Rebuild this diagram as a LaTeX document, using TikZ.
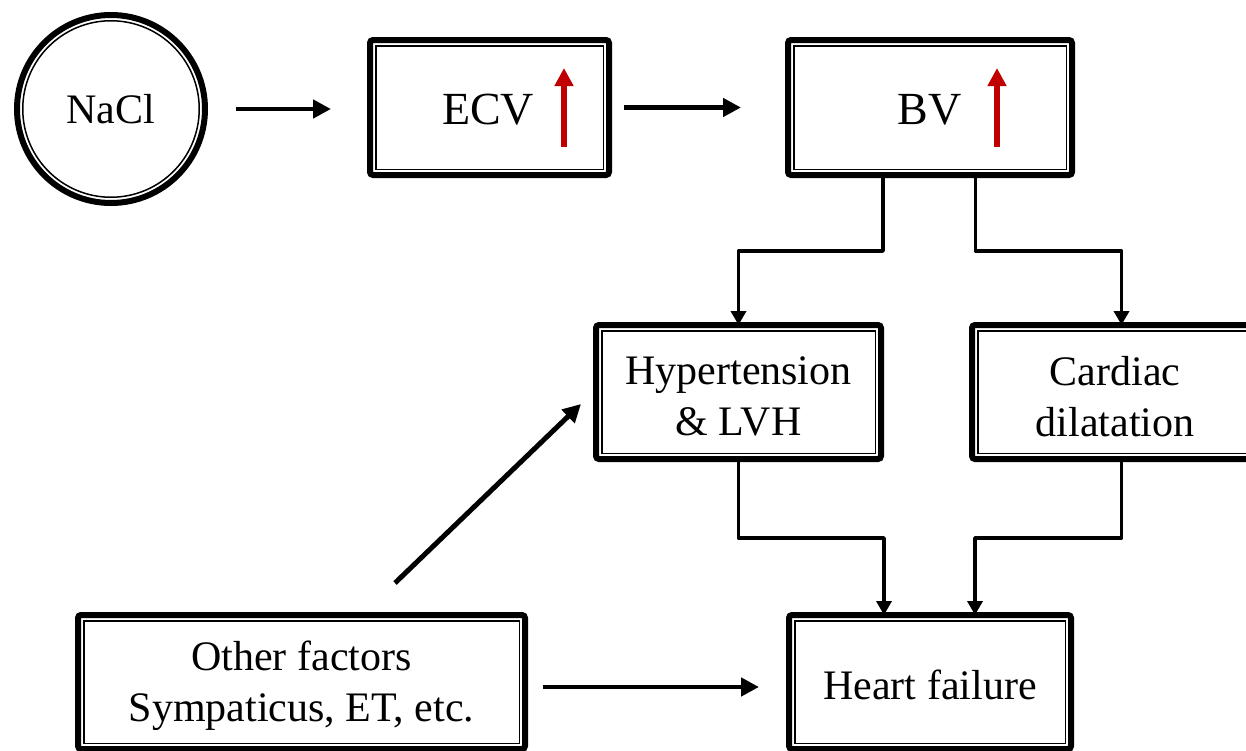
\documentclass[tikz,border=0pt]{standalone}
\usepackage{fontspec}
\setmainfont{Liberation Serif}
\usetikzlibrary{arrows.meta,calc}
\definecolor{upred}{HTML}{C00000}
\tikzset{
  dbox/.style={draw, line width=6pt, rounded corners=3pt, outer sep=0pt, inner sep=0pt},
  btext/.style={align=center, inner sep=0pt, font=\fontsize{42}{51}\selectfont},
  inframe/.style={line width=1.5pt},
  harrow/.style={line width=4.5pt, -{Triangle[length=18pt,width=18pt]}},
  earrow/.style={line width=3.5pt, line join=round, -{Triangle[length=14pt,width=15pt]}},
  uparrow/.style={draw=upred, line width=6.5pt, -{Triangle[length=18pt,width=18pt,fill=upred]}},
  bigtext/.style={font=\fontsize{46}{54}\selectfont, inner sep=0pt}
}
\begin{document}
\begin{tikzpicture}[x=1pt,y=-1pt]
\useasboundingbox (0,0) rectangle (1246,750);
\clip (0,0) rectangle (1246,750);
% NaCl
\node[circle, draw, line width=6pt, minimum size=188pt, inner sep=0pt, outer sep=0pt, font=\fontsize{42}{49}\selectfont] (nacl) at (111,109) {NaCl};
\draw[inframe] (nacl.center) circle[radius=88.25pt];
% boxes
\node[dbox, minimum width=239pt, minimum height=135pt] (ecv) at (489.5,107.5) {};
\node[dbox, minimum width=284pt, minimum height=135pt] (bv) at (930,107.5) {};
\node[dbox, minimum width=285pt, minimum height=134pt] (hyp) at (738.5,392) {};
\node[dbox, minimum width=286pt, minimum height=134pt] (card) at (1115,392) {};
\node[dbox, minimum width=447pt, minimum height=134pt] (other) at (301.5,682) {};
\node[dbox, minimum width=282pt, minimum height=134pt] (hf) at (930,682) {};
\foreach \n in {ecv,bv,hyp,card,other,hf}
  \draw[inframe] ([xshift=5.75pt,yshift=-5.75pt]\n.north west) rectangle ([xshift=-5.75pt,yshift=5.75pt]\n.south east);
% texts
\node[btext] (hypt) at (738.5,396) {Hypertension\\\& LVH};
\node[btext] (cardt) at (1115,397) {Cardiac\\dilatation};
\node[btext] (othert) at (301.5,686) {Other factors\\Sympaticus, ET, etc.};
\node[btext] (hft) at (930,685) {Heart failure};
\node[bigtext] (ecvt) at (488,110) {ECV};
\node[bigtext] (bvt) at (929.5,110) {BV};
\coordinate (ecvup0) at (564,147); \coordinate (ecvup1) at (564,68);
\coordinate (bvup0) at (997,147); \coordinate (bvup1) at (997,68);
\draw[uparrow] (ecvup0) -- (ecvup1);
\draw[uparrow] (bvup0) -- (bvup1);
% connectors
\draw[harrow, shorten <=31pt, shorten >=39pt] (nacl.east) -- (nacl.east -| ecv.west);
\draw[harrow, shorten <=15pt, shorten >=47pt] (ecv.east) -- (bv.west);
\draw[earrow] ([xshift=-47pt]bv.south) -- ++(0,76) -| (hyp.north);
\draw[earrow] ([xshift=45.5pt]bv.south) -- ++(0,76) -| ([xshift=6.5pt]card.north);
\draw[earrow] (hyp.south) -- ++(0,79) -| ([xshift=-46pt]hf.north);
\draw[earrow] ([xshift=6.5pt]card.south) -- ++(0,79) -| ([xshift=45pt]hf.north);
\coordinate (d1) at (395,583); \coordinate (d2) at (581,404);
\draw[harrow, line width=5pt] (d1) -- (d2);
\draw[harrow, shorten <=18pt, shorten >=30pt] ([yshift=-5pt]other.east) -- ([yshift=-5pt]other.east -| hf.west);
\end{tikzpicture}
\end{document}
